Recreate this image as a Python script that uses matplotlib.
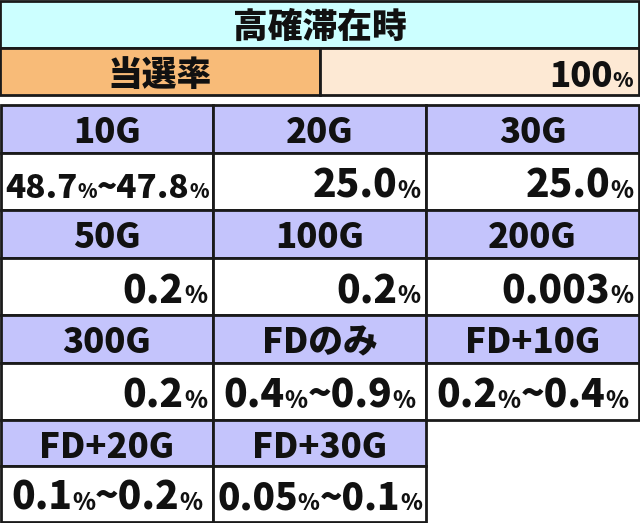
import re
import matplotlib
matplotlib.use("Agg")
import matplotlib.pyplot as plt
from matplotlib.patches import Rectangle

title = "高確滞在時"
rate_label = "当選率"
rate_value = "100%"
games = ["10G", "20G", "30G", "50G", "100G", "200G", "300G", "FDのみ", "FD+10G", "FD+20G", "FD+30G"]
rates = ["48.7%~47.8%", "25.0%", "25.0%", "0.2%", "0.2%", "0.003%", "0.2%",
         "0.4%~0.9%", "0.2%~0.4%", "0.1%~0.2%", "0.05%~0.1%"]

FONT = ["Noto Sans CJK JP", "DejaVu Sans"]
WT = "black"
W, H = 640, 523
fig = plt.figure(figsize=(6.4, 5.23), dpi=100)
ax = fig.add_axes([0, 0, 1, 1])
ax.set_xlim(0, W); ax.set_ylim(H, 0); ax.axis("off")
fig.canvas.draw()
rend = fig.canvas.get_renderer()

def rect(x0, y0, x1, y1, fc):
    ax.add_patch(Rectangle((x0, y0), x1 - x0, y1 - y0, fc=fc, ec="#1a1a1a", lw=2))

def rich(x0, x1, yc, s, size, align):
    parts = re.findall(r"%|[^%]+", s)
    items = []
    for p in parts:
        sz = size * 0.6 if p == "%" else size
        t = ax.text(0, yc, p, fontsize=sz, fontweight=WT, family=FONT,
                    va="baseline", ha="left", color="#111")
        items.append(t)
    def widths():
        return [t.get_window_extent(rend).width for t in items]
    ws = widths()
    avail = (x1 - x0) - 8
    if sum(ws) > avail:
        f = avail / sum(ws)
        for t in items:
            t.set_fontsize(t.get_fontsize() * f)
        ws = widths()
    total = sum(ws)
    x = (x1 - 6 - total) if align == "right" else (x0 + x1) / 2 - total / 2
    for t, w in zip(items, ws):
        t.set_x(x); x += w

def label(x, y, s, size):
    ax.text(x, y, s, fontsize=size, fontweight=WT, family=FONT, ha="center",
            va="baseline", color="#111")

# title rows
rect(0, 1, W - 1, 48, "#ccffff")
label(W / 2, 38, title, 25)
rect(0, 48, 320, 95, "#f8bb78")
rect(320, 48, W - 1, 95, "#fde9d4")
label(160, 86, rate_label, 25)
rich(320, W - 1, 87, rate_value, 25, "right")

cols = [1, 213, 426, 639]
rows = [105, 153, 210, 258, 315, 363, 420, 466, 522]
for i, (g, r) in enumerate(zip(games, rates)):
    c, rr = i % 3, i // 3
    x0, x1 = cols[c], cols[c + 1]
    y0, y1, y2 = rows[2 * rr], rows[2 * rr + 1], rows[2 * rr + 2]
    rect(x0, y0, x1, y1, "#c4c4fc")
    rect(x0, y1, x1, y2, "#ffffff")
    label((x0 + x1) / 2, y0 + 38, g, 25)
    rich(x0, x1, y2 - 12, r, 28, "center" if "~" in r else "right")

fig.savefig("out.png", dpi=100)
